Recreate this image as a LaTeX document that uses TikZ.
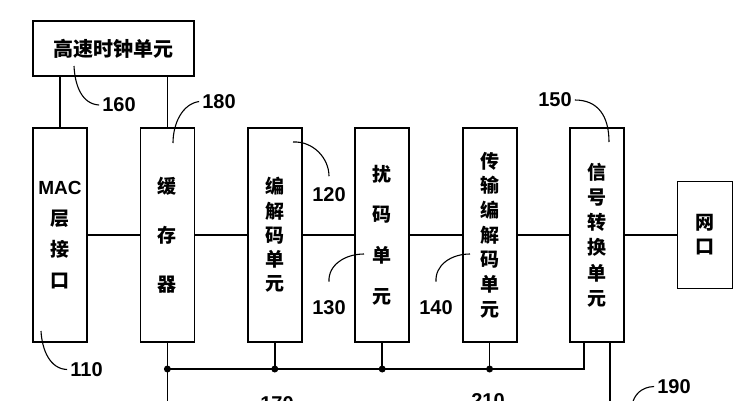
\documentclass[tikz,border=0pt]{standalone}
\usepackage{fontspec}
\setmainfont{Liberation Sans}
\newfontfamily\cjk{Noto Sans CJK SC}
\usepackage{tikz}
\usetikzlibrary{positioning}
\tikzstyle{unitbox} = [draw, line width=1.8pt, minimum width=54pt, minimum height=214pt, inner sep=0pt, outer sep=0pt, align=center]
\tikzstyle{wire} = [line width=1.7pt]
\tikzstyle{leader} = [line width=1.1pt]
\tikzstyle{refnum} = [font=\fontsize{20}{24}\selectfont\bfseries, inner sep=3pt]
\tikzstyle{junction} = [circle, fill, inner sep=0pt, minimum size=7pt]
\newcommand{\unitfont}[1]{\cjk\bfseries\fontsize{19}{#1}\selectfont}

\begin{document}
\begin{tikzpicture}[x=1pt, y=-1pt]
\clip (0,0) rectangle (745,400);
% Units in a row
\node[unitbox, font=\unitfont{31}] (mac) at (60,235) {{\rmfamily MAC}\\层\\接\\口};
\node[unitbox, font=\unitfont{49}, right=53.4pt of mac] (buffer) {缓\\存\\器};
\node[unitbox, font=\unitfont{24.3}, right=53.4pt of buffer] (codec) {编\\解\\码\\单\\元};
\node[unitbox, font=\unitfont{40.7}, right=53.4pt of codec] (scram) {扰\\码\\单\\元};
\node[unitbox, font=\unitfont{24.7}, right=53.4pt of scram] (trans) {传\\输\\编\\解\\码\\单\\元};
\node[unitbox, font=\unitfont{25.2}, right=53.4pt of trans] (signal) {信\\号\\转\\换\\单\\元};
\node[unitbox, font=\unitfont{24}, minimum width=55pt, minimum height=107pt, right=53.4pt of signal] (netport) {网\\口};
\node[draw, line width=1.8pt, minimum width=161pt, minimum height=55pt, font=\cjk\bfseries\fontsize{20}{24}\selectfont] (clock) at (113.5,48.5) {高速时钟单元};

% Data path
\draw[wire] (mac) -- (buffer);
\draw[wire] (buffer) -- (codec);
\draw[wire] (codec) -- (scram);
\draw[wire] (scram) -- (trans);
\draw[wire] (trans) -- (signal);
\draw[wire] (signal) -- (netport);
\draw[wire] (clock.south -| mac) -- (mac.north);
\draw[wire] (clock.south -| buffer) -- (buffer.north);

% Bus below the units
\coordinate (bus) at (0,369);
\draw[wire] (buffer.south) -- ++(0,70);
\draw[wire] (buffer.south |- bus) -- ([xshift=-13pt]signal.south |- bus) -- ([xshift=-13pt]signal.south);
\draw[wire] ([xshift=13pt]signal.south) -- ++(0,70);
\foreach \u in {codec,scram,trans}
    \draw[wire] (\u.south) -- (\u.south |- bus);
\foreach \u in {buffer,codec,scram,trans}
    \node[junction] (j-\u) at (\u.south |- bus) {};

% Reference numbers
\node[refnum] (n160) at (119,105) {160};
\node[refnum] (n180) at (219,101.5) {180};
\node[refnum] (n110) at (86.5,369.5) {110};
\node[refnum] (n120) at (329,194.5) {120};
\node[refnum] (n130) at (329,308) {130};
\node[refnum] (n140) at (436,308) {140};
\node[refnum] (n150) at (555,100) {150};
\node[refnum] (n190) at (674,386.5) {190};
\node[refnum] (n170) at (277,404) {170};
\node[refnum] (n210) at (488,401) {210};

\coordinate (l160) at (74,66);
\coordinate (l180) at (173,143);
\coordinate (l110) at (41,331);
\coordinate (l120) at (293,142);
\coordinate (l130) at (364,254);
\coordinate (l140) at (470,254);
\coordinate (l150) at (609,142);
\coordinate (l190) at (632,405);
\draw[leader] (l160) .. controls (75,86) and (82,104) .. (n160.west);
\draw[leader] (n180.west) .. controls (182,104) and (173,124) .. (l180);
\draw[leader] (l110) .. controls (42,350) and (50,369) .. (n110.west);
\draw[leader] (l120) .. controls (313,141) and (329,158) .. ([yshift=8pt]n120.north);
\draw[leader] ([yshift=16pt]n130.north) .. controls (328,265) and (345,254) .. (l130);
\draw[leader] ([yshift=16pt]n140.north) .. controls (435,265) and (451,254) .. (l140);
\draw[leader] (n150.east) .. controls (598,100) and (609,116) .. (l150);
\draw[leader] (n190.west) .. controls (641,387) and (634,395) .. (l190);
\end{tikzpicture}
\end{document}
